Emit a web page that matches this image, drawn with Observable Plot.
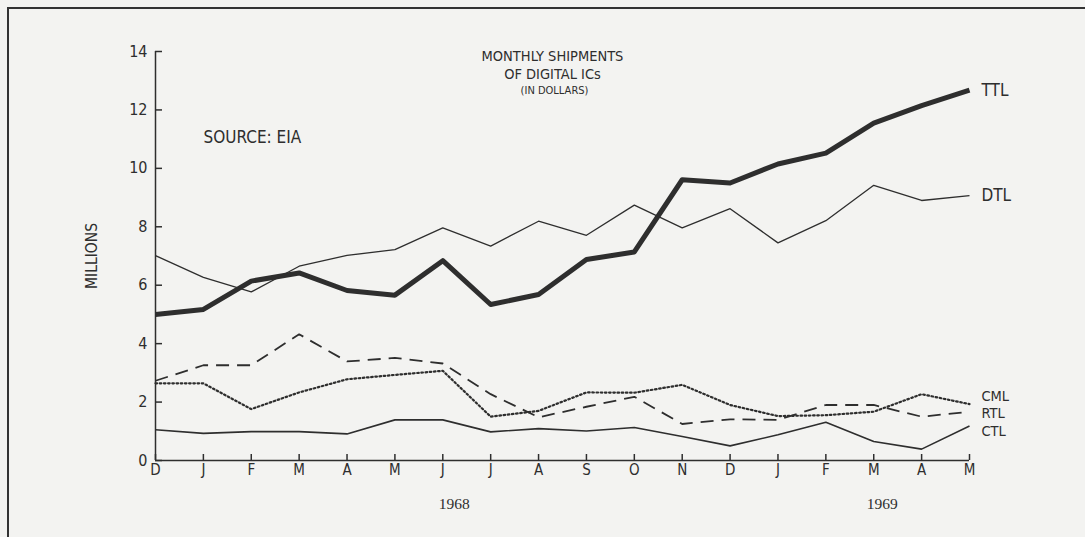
<!DOCTYPE html>
<html>
<head>
<meta charset="utf-8">
<script src="https://cdn.jsdelivr.net/npm/d3@7"></script>
<script src="https://cdn.jsdelivr.net/npm/@observablehq/plot@0.6"></script>
<style>
  html, body { margin: 0; padding: 0; background: #f3f3f1; }
  #wrap { position: relative; width: 1085px; height: 537px; overflow: hidden; }
  #border { position: absolute; left: 7px; top: 7px; width: 1200px; height: 700px;
            border-top: 2px solid #333; border-left: 2px solid #333; pointer-events: none; }
  #chart svg { display: block; }
</style>
</head>
<body>
<div id="wrap"><div id="chart"></div><div id="border"></div></div>
<script>
const months = ["D","J","F","M","A","M","J","J","A","S","O","N","D","J","F","M","A","M"];
const ttl = [5.0,5.17,6.14,6.42,5.82,5.66,6.84,5.34,5.68,6.88,7.14,9.61,9.5,10.15,10.52,11.55,12.15,12.68];
const dtl = [7.01,6.27,5.77,6.65,7.02,7.22,7.96,7.34,8.19,7.71,8.74,7.96,8.62,7.45,8.21,9.42,8.9,9.07];
const cml = [2.64,2.64,1.76,2.33,2.78,2.93,3.07,1.5,1.70,2.33,2.32,2.59,1.9,1.52,1.55,1.67,2.27,1.93];
const rtl = [2.73,3.26,3.26,4.32,3.39,3.51,3.32,2.27,1.48,1.84,2.18,1.25,1.41,1.39,1.9,1.9,1.5,1.67];
const ctl = [1.05,0.93,0.99,0.99,0.91,1.39,1.39,0.98,1.09,1.01,1.13,0.82,0.5,0.88,1.31,0.65,0.39,1.18];
const seriesNames = ["TTL","DTL","CML","RTL","CTL"];
const yearLabels = ["1968","1969"];
const yearAt = [6.24, 15.18];
const yTicks = [0,2,4,6,8,10,12,14];

const values = {TTL: ttl, DTL: dtl, CML: cml, RTL: rtl, CTL: ctl};
const style = {
  TTL: {strokeWidth: 5, dash: null, dy: 0, size: 17},
  DTL: {strokeWidth: 1.3, dash: null, dy: 0, size: 17},
  CML: {strokeWidth: 2.2, dash: "1.6,2.6", dy: -8, size: 14.5},
  RTL: {strokeWidth: 1.8, dash: "13,8", dy: 2, size: 14.5},
  CTL: {strokeWidth: 1.6, dash: null, dy: 5, size: 14.5}
};
const ink = "#2e2e2e";
const font = "'Liberation Sans Narrow', 'DejaVu Sans Condensed', 'Roboto', sans-serif";

const lineMarks = seriesNames.map(name => Plot.line(values[name].map((v, i) => ({i, v})), {
  x: "i", y: "v", stroke: ink, strokeWidth: style[name].strokeWidth,
  strokeDasharray: style[name].dash, strokeLinejoin: "round",
  strokeLinecap: name === "CML" ? "round" : "butt"
}));
const labelMarks = seriesNames.map(name => Plot.text([name], {
  x: () => months.length - 1, y: () => values[name][values[name].length - 1],
  text: d => d, textAnchor: "start", lineAnchor: "middle", dx: 12, dy: style[name].dy,
  fontSize: style[name].size, fill: ink, fontFamily: font
}));

const chart = Plot.plot({
  width: 1085, height: 537,
  marginLeft: 155, marginRight: 116, marginTop: 51, marginBottom: 77,
  style: {background: "transparent", fontFamily: font, color: ink},
  x: {type: "linear", domain: [0, months.length - 1], axis: null},
  y: {domain: [0, 14], axis: null},
  marks: [
    Plot.ruleX([0], {stroke: ink, strokeWidth: 1.5}),
    Plot.ruleY([0], {stroke: ink, strokeWidth: 1.5}),
    Plot.axisY(yTicks, {tickSize: -7, tickPadding: 15, fontSize: 16, stroke: ink, fill: ink, strokeWidth: 1.5, label: null}),
    Plot.axisX(d3.range(months.length), {tickSize: -6, tickPadding: 10, tickFormat: i => months[i], fontSize: 15, stroke: ink, fill: ink, strokeWidth: 1.5, label: null}),
    Plot.text(["MILLIONS"], {frameAnchor: "left", textAnchor: "middle", lineAnchor: "middle", rotate: -90, dx: -63, fontSize: 15.5, fill: ink}),
    Plot.text(yearLabels, {x: (d, i) => yearAt[i], frameAnchor: "bottom", lineAnchor: "middle", dy: 44, text: d => d, fontSize: 15.5, fill: ink, fontFamily: "'Liberation Serif', 'DejaVu Serif', serif"}),
    Plot.text(["MONTHLY SHIPMENTS"], {frameAnchor: "top", lineAnchor: "middle", dx: -10, dy: 5, fontSize: 14.5, fill: ink}),
    Plot.text(["OF DIGITAL ICs"], {frameAnchor: "top", lineAnchor: "middle", dx: -10, dy: 23, fontSize: 14.5, fill: ink}),
    Plot.text(["(IN DOLLARS)"], {frameAnchor: "top", lineAnchor: "middle", dx: -8, dy: 39, fontSize: 11, fill: ink}),
    Plot.text(["SOURCE: EIA"], {frameAnchor: "top-left", lineAnchor: "middle", dx: 48, dy: 86, textAnchor: "start", fontSize: 17, fill: ink}),
    ...lineMarks,
    ...labelMarks
  ]
});
document.getElementById("chart").appendChild(chart);
</script>
</body>
</html>
